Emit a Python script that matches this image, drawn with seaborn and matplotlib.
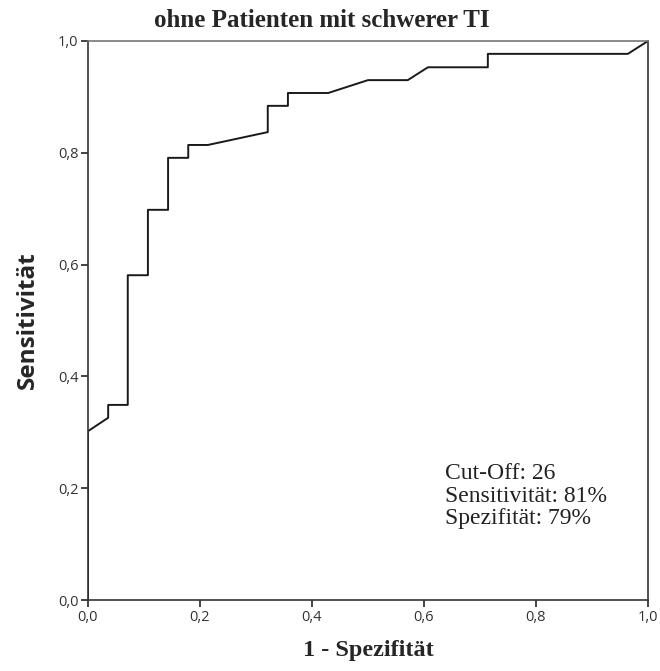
import pandas as pd
import seaborn as sns
import matplotlib.pyplot as plt

# ROC-Kurve (1 - Spezifitaet vs. Sensitivitaet)
fpr = [0.0, 0.0, 0.036, 0.036, 0.071, 0.071, 0.107, 0.107, 0.143, 0.143,
       0.179, 0.179, 0.214, 0.321, 0.321, 0.357, 0.357, 0.429, 0.5, 0.571,
       0.607, 0.714, 0.714, 0.964, 1.0]
tpr = [0.0, 0.302, 0.326, 0.349, 0.349, 0.581, 0.581, 0.698, 0.698, 0.791,
       0.791, 0.814, 0.814, 0.837, 0.884, 0.884, 0.907, 0.907, 0.930, 0.930,
       0.953, 0.953, 0.977, 0.977, 1.0]
tick_values = [0.0, 0.2, 0.4, 0.6, 0.8, 1.0]
tick_labels = ["0,0", "0,2", "0,4", "0,6", "0,8", "1,0"]
title = "ohne Patienten mit schwerer TI"
info_lines = ["Cut-Off: 26", "Sensitivität: 81%", "Spezifität: 79%"]

df = pd.DataFrame({"fpr": fpr, "tpr": tpr})

sns.set_style("ticks")
plt.rcParams["font.family"] = ["Open Sans", "DejaVu Sans"]
fig = plt.figure(figsize=(6.6, 6.71), dpi=100)
ax = fig.add_axes([88 / 660, 71 / 671, 560 / 660, 559 / 671])

sns.lineplot(data=df, x="fpr", y="tpr", sort=False, estimator=None,
             color="#1a1a1a", linewidth=1.4, ax=ax)

ax.set_xlim(0, 1)
ax.set_ylim(0, 1)
ax.set_xticks(tick_values)
ax.set_xticklabels(tick_labels)
ax.set_yticks(tick_values)
ax.set_yticklabels(tick_labels)
ax.tick_params(axis="both", length=5, width=1.2, color="#222222",
               labelsize=10.5, labelcolor="#333333", pad=2)
for side in ["left", "bottom", "right", "top"]:
    ax.spines[side].set_visible(True)
    ax.spines[side].set_linewidth(1.2)
    ax.spines[side].set_color("#333333")
ax.spines["top"].set_color("#777777")

ax.set_xlabel("1 - Spezifität", family="Liberation Serif", fontsize=17.5,
              fontweight="bold", labelpad=11)
ax.set_ylabel("Sensitivität", fontsize=17.5, fontweight="bold", labelpad=13)

fig.text(0.488, 0.970, title, ha="center", va="center",
         family="Liberation Serif", fontweight="bold", fontsize=18)

ax.text(0.637, 0.245, "\n".join(info_lines), ha="left", va="top",
        family="Liberation Serif", fontsize=17, linespacing=1.1,
        color="#222222", transform=ax.transAxes)

fig.savefig("out.png", dpi=100)
